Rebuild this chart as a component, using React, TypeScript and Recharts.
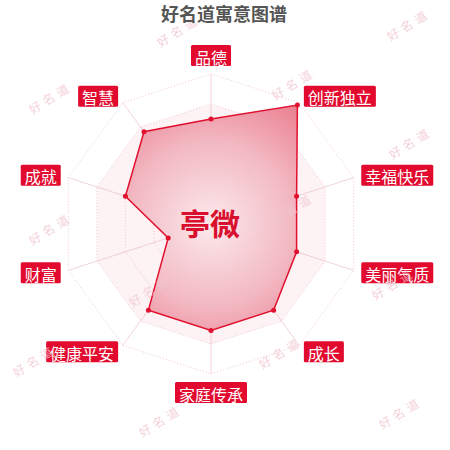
import { PolarAngleAxis, PolarGrid, PolarRadiusAxis, Radar, RadarChart } from "recharts";

const aspects = ["品德", "创新独立", "幸福快乐", "美丽气质", "成长", "家庭传承", "健康平安", "财富", "成就", "智慧"];
const scores = [70, 98, 60, 60, 71, 71, 71, 30, 60, 76];
const bandLevel = 80;
const title = "好名道寓意图谱";
const nameText = "亭微";
const mark = "好名道";

const CX = 211;
const CY = 224;
const R = 150;
const RED = "#e20a2e";
const FONT = "'Noto Sans CJK SC', 'Noto Sans', sans-serif";

const rows = aspects.map((a, i) => ({ aspect: a, score: scores[i], band: bandLevel }));

const marks: [number, number][] = [
  [178, 30], [408, 24], [50, 97], [293, 83], [410, 142], [50, 228], [292, 208],
  [150, 290], [393, 283], [34, 360], [280, 352], [160, 420], [400, 412],
];

/** Etiqueta de eje: caja roja con texto blanco, alineada según el lado. */
function AspectTick(props: any) {
  const { x, y, payload, textAnchor } = props;
  const label = String(payload.value);
  const fs = 16;
  const w = label.length * fs + 8;
  const h = 21;
  let left = x - w / 2;
  let top = y - h / 2;
  if (textAnchor === "start") left = x;
  else if (textAnchor === "end") left = x - w;
  else top = y < CY ? y - h : y;
  return (
    <g>
      <rect x={left} y={top} width={w} height={h} rx={1.5} fill={RED} />
      <text
        x={left + w / 2}
        y={top + h / 2 + 1}
        textAnchor="middle"
        dominantBaseline="central"
        fill="#fff"
        fontSize={fs}
        fontFamily={FONT}
      >
        {label}
      </text>
    </g>
  );
}

export default function App() {
  return (
    <div style={{ position: "absolute", left: 0, top: 0, width: 450, height: 450, background: "#fff" }}>
      <RadarChart width={450} height={450} data={rows} cx={CX} cy={CY} outerRadius={R}>
        <defs>
          <radialGradient id="areaFill" gradientUnits="userSpaceOnUse" cx={CX} cy={CY} r={R}>
            <stop offset="0%" stopColor="#fbe9ec" />
            <stop offset="55%" stopColor="#f2b5bf" />
            <stop offset="100%" stopColor="#e97486" />
          </radialGradient>
        </defs>
        <PolarGrid gridType="polygon" stroke="#f0c8d1" strokeDasharray="1 2" radialLines={false} />
        <PolarGrid gridType="polygon" stroke="#f3d3da" polarRadius={[0]} />
        <PolarRadiusAxis domain={[0, 100]} tickCount={6} tick={false} axisLine={false} />
        <PolarAngleAxis dataKey="aspect" tick={<AspectTick />} tickLine={false} axisLine={false} />
        <Radar
          dataKey="band"
          stroke="none"
          fill="#f0a8b6"
          fillOpacity={0.14}
          dot={false}
          isAnimationActive={false}
        />
        <Radar
          dataKey="score"
          stroke="#e1102f"
          strokeWidth={1.5}
          fill="url(#areaFill)"
          fillOpacity={0.95}
          dot={{ r: 2.5, fill: "#e1102f", stroke: "none", fillOpacity: 1 }}
          isAnimationActive={false}
        />
      </RadarChart>
      <svg width={450} height={450} style={{ position: "absolute", left: 0, top: 0, pointerEvents: "none" }}>
        {marks.map(([mx, my], i) => (
          <text
            key={i}
            x={mx}
            y={my}
            transform={`rotate(-32 ${mx} ${my})`}
            textAnchor="middle"
            dominantBaseline="central"
            fontSize={12}
            letterSpacing={4}
            fill="#f1c6cf"
            fillOpacity={0.8}
            fontFamily={FONT}
          >
            {mark}
          </text>
        ))}
        <text x={224} y={13} textAnchor="middle" dominantBaseline="central" fontSize={18} fontWeight="bold" fill="#555" fontFamily={FONT}>
          {title}
        </text>
        <text x={210} y={222} textAnchor="middle" dominantBaseline="central" fontSize={30} fontWeight="bold" fill="#d90f2e" fontFamily={FONT}>
          {nameText}
        </text>
      </svg>
    </div>
  );
}
